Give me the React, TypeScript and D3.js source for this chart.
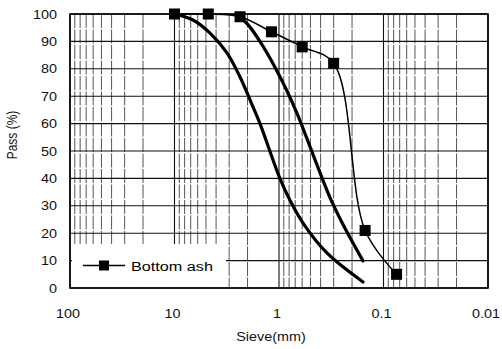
import React from "react";
import * as d3 from "d3";

// Bottom ash gradation (markers)
const ashSize = [10, 4.75, 2.36, 1.18, 0.6, 0.3, 0.15, 0.075];
const ashPass = [100, 100, 99, 93.5, 88, 82, 21, 5];

// Upper gradation limit curve (thick, left)
const limitASize = [10, 6.65, 4.57, 3.15, 2.36, 1.77, 1.52, 0.98, 0.785, 0.589, 0.348, 0.157];
const limitAPass = [100, 97.8, 93, 85.8, 77, 66, 60, 40, 32, 23.7, 12.8, 2.2];

// Lower gradation limit curve (thick, middle)
const limitBSize = [2.36, 1.9, 1.45, 1.09, 0.84, 0.66, 0.54, 0.414, 0.325, 0.244, 0.157];
const limitBPass = [99, 95.3, 88.7, 80.5, 72, 63, 54.5, 43, 33, 23.2, 9.9];

const xTicks = [100, 10, 1, 0.1, 0.01];
const xTickLabels = ["100", "10", "1", "0.1", "0.01"];
const yTicks = [0, 10, 20, 30, 40, 50, 60, 70, 80, 90, 100];

const legendLabel = "Bottom ash";
const xTitle = "Sieve(mm)";
const yTitle = "Pass (%)";

const W = 502;
const H = 349;
const L = 70, R = 488, T = 14, B = 288;
const FONT = "'Liberation Sans', Arial, Helvetica, sans-serif";
const SX = 1.2;

export default function App() {
  const x = d3.scaleLog().domain([100, 0.01]).range([L, R]);
  const y = d3.scaleLinear().domain([0, 100]).range([B, T]);

  const minor: number[] = [];
  for (let e = -2; e <= 1; e++) {
    for (let k = 2; k <= 9; k++) minor.push(k * Math.pow(10, e));
  }

  const line = d3
    .line<[number, number]>()
    .x((d) => x(d[0]))
    .y((d) => y(d[1]))
    .curve(d3.curveCatmullRom.alpha(0.5));

  const ash = ashSize.map((s, i) => [s, ashPass[i]] as [number, number]);
  const limA = limitASize.map((s, i) => [s, limitAPass[i]] as [number, number]);
  const limB = limitBSize.map((s, i) => [s, limitBPass[i]] as [number, number]);

  const ms = 11;

  return (
    <svg width={W} height={H} style={{ position: "absolute", left: 0, top: 0, background: "#fff" }}>
      <rect x={0} y={0} width={W} height={H} fill="#fff" />
      {/* minor vertical grid */}
      {minor.map((v, i) => (
        <line key={"mv" + i} x1={x(v)} x2={x(v)} y1={T} y2={B} stroke="#2a2a2a" strokeWidth={0.8} strokeDasharray="14,1.5" />
      ))}
      {/* major vertical grid */}
      {xTicks.map((v, i) => (
        <line key={"Mv" + i} x1={x(v)} x2={x(v)} y1={T} y2={B} stroke="#111" strokeWidth={1.1} />
      ))}
      {/* horizontal grid */}
      {yTicks.map((v, i) => (
        <line key={"h" + i} x1={L} x2={R} y1={y(v)} y2={y(v)} stroke="#111" strokeWidth={1.1} />
      ))}
      {/* frame */}
      <rect x={L} y={T} width={R - L} height={B - T} fill="none" stroke="#000" strokeWidth={1.6} />

      {/* legend background */}
      <rect x={72} y={244} width={154} height={43} fill="#fff" />

      {/* limit curves */}
      <path d={line(limA) || ""} fill="none" stroke="#000" strokeWidth={3.2} strokeLinecap="round" />
      <path d={line(limB) || ""} fill="none" stroke="#000" strokeWidth={3.2} strokeLinecap="round" />

      {/* bottom ash */}
      <path d={line(ash) || ""} fill="none" stroke="#000" strokeWidth={1.5} />
      {ash.map((d, i) => (
        <rect key={"m" + i} x={x(d[0]) - ms / 2} y={y(d[1]) - ms / 2} width={ms} height={ms} fill="#000" />
      ))}

      {/* legend */}
      <line x1={83} x2={125} y1={265.5} y2={265.5} stroke="#000" strokeWidth={1.5} />
      <rect x={99} y={260.5} width={10} height={10} fill="#000" />
      <text transform={`translate(131,270.5) scale(${SX},1)`} fontFamily={FONT} fontSize={13.5} fill="#000">
        {legendLabel}
      </text>

      {/* y tick labels */}
      {yTicks.map((v, i) => (
        <text key={"yt" + i} transform={`translate(57,${y(v) + 4.5}) scale(${SX},1)`} textAnchor="end" fontFamily={FONT} fontSize={12} fill="#111">
          {v}
        </text>
      ))}
      {/* x tick labels */}
      {xTicks.map((v, i) => (
        <text key={"xt" + i} transform={`translate(${x(v) - 2},${B + 30}) scale(${SX},1)`} textAnchor="middle" fontFamily={FONT} fontSize={12} fill="#111">
          {xTickLabels[i]}
        </text>
      ))}
      {/* axis titles */}
      <text transform={`translate(271,341) scale(${SX},1)`} textAnchor="middle" fontFamily={FONT} fontSize={12} fill="#111">
        {xTitle}
      </text>
      <text transform={`translate(17,135) scale(${SX},1) rotate(-90)`} textAnchor="middle" fontFamily={FONT} fontSize={12} fill="#111">
        {yTitle}
      </text>
    </svg>
  );
}
